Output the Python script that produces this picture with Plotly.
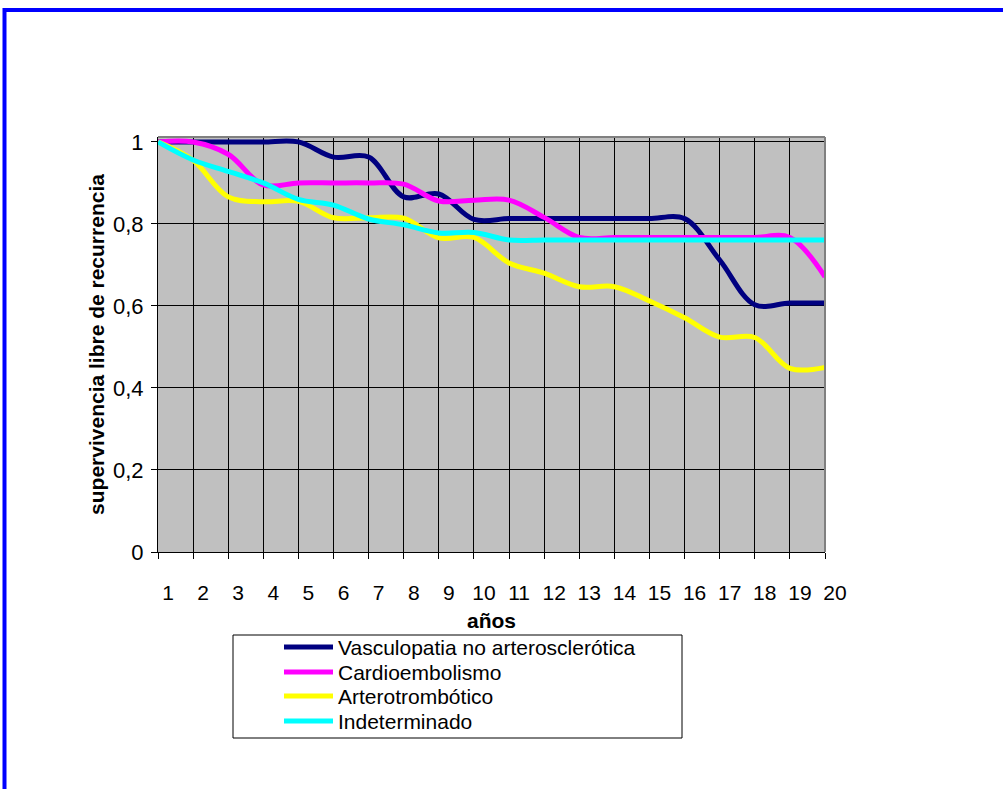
import plotly.graph_objects as go

# Recurrence-free survival by stroke subtype, years 1-20
years = list(range(1, 21))

vasculopatia = [1.0, 1.0, 1.0, 1.0, 1.0, 0.963, 0.963, 0.866, 0.873, 0.811,
                0.813, 0.813, 0.813, 0.813, 0.813, 0.813, 0.712, 0.603, 0.607, 0.607]
cardioembolismo = [1.0, 1.0, 0.97, 0.895, 0.9, 0.9, 0.9, 0.897, 0.856, 0.858,
                   0.858, 0.816, 0.767, 0.767, 0.767, 0.767, 0.767, 0.767, 0.767, 0.671]
arterotrombotico = [1.0, 0.955, 0.866, 0.854, 0.855, 0.815, 0.815, 0.814, 0.766, 0.767,
                    0.705, 0.68, 0.647, 0.647, 0.612, 0.571, 0.524, 0.523, 0.448, 0.45]
indeterminado = [1.0, 0.956, 0.928, 0.9, 0.86, 0.846, 0.812, 0.798, 0.778, 0.779,
                 0.761, 0.761, 0.761, 0.761, 0.761, 0.761, 0.761, 0.761, 0.761, 0.761]

series_names = ["Vasculopatia no arterosclerótica", "Cardioembolismo",
                "Arterotrombótico", "Indeterminado"]
series_values = [vasculopatia, cardioembolismo, arterotrombotico, indeterminado]
series_colors = ["#000080", "#FF00FF", "#FFFF00", "#00FFFF"]

y_tickvals = [0, 0.2, 0.4, 0.6, 0.8, 1.0]
y_ticktext = ["0", "0,2", "0,4", "0,6", "0,8", "1"]

W, H = 1003, 789
L, R, T, B = 158, 825, 137, 552  # plot area in pixels

def px(xp):
    return (xp - L) / (R - L)

def py(yp):
    return (B - yp) / (B - T)

FONT = "Liberation Sans, Arial, sans-serif"

fig = go.Figure()
for name, vals, col in zip(series_names, series_values, series_colors):
    fig.add_trace(go.Scatter(
        x=years, y=vals, mode="lines", name=name, showlegend=False,
        line=dict(color=col, width=5, shape="spline", smoothing=1.0),
    ))

shapes = []
# outer blue frame
shapes.append(dict(type="rect", xref="paper", yref="paper",
                   x0=px(4.5), x1=px(1012), y0=py(10), y1=py(800),
                   line=dict(color="#0000FF", width=4), layer="above"))
# grey top/right frame of plot area
shapes.append(dict(type="line", xref="paper", yref="paper", x0=0, x1=1, y0=1, y1=1,
                   line=dict(color="#808080", width=2)))
shapes.append(dict(type="line", xref="paper", yref="paper", x0=1, x1=1, y0=0, y1=1,
                   line=dict(color="#808080", width=2)))

# legend box
shapes.append(dict(type="rect", xref="paper", yref="paper",
                   x0=px(233), x1=px(682), y0=py(635), y1=py(738),
                   line=dict(color="#000000", width=1), fillcolor="rgba(0,0,0,0)"))
annotations = []
leg_y = [647, 672, 696, 721]
for name, col, yy in zip(series_names, series_colors, leg_y):
    shapes.append(dict(type="line", xref="paper", yref="paper",
                       x0=px(284), x1=px(333), y0=py(yy), y1=py(yy),
                       line=dict(color=col, width=5)))
    annotations.append(dict(xref="paper", yref="paper", x=px(336), y=py(yy),
                            xanchor="left", yanchor="middle", showarrow=False,
                            text=name, font=dict(family=FONT, size=21, color="#000000")))

fig.update_layout(
    width=W, height=H,
    margin=dict(l=L, r=W - R, t=T, b=H - B, pad=0),
    paper_bgcolor="#FFFFFF", plot_bgcolor="#C0C0C0",
    font=dict(family=FONT, size=20, color="#000000"),
    shapes=shapes, annotations=annotations,
    xaxis=dict(
        range=[1, 20], tickmode="linear", tick0=1, dtick=1,
        showgrid=True, gridcolor="#000000", gridwidth=1,
        ticks="outside", ticklen=6, tickcolor="#000000",
        showline=True, linecolor="#000000", linewidth=1,
        zeroline=False, ticklabelshift=10, ticklabelstandoff=16,
        tickfont=dict(family=FONT, size=21),
        title=dict(text="<b>años</b>", font=dict(family=FONT, size=21), standoff=10),
    ),
    yaxis=dict(
        range=[0, 1.012], tickvals=y_tickvals, ticktext=y_ticktext,
        showgrid=True, gridcolor="#000000", gridwidth=1,
        ticks="outside", ticklen=6, tickcolor="#000000",
        showline=True, linecolor="#000000", linewidth=1,
        zeroline=False, ticklabelstandoff=3,
        tickfont=dict(family=FONT, size=22),
        title=dict(text="<b>supervivencia libre de recurrencia</b>",
                   font=dict(family=FONT, size=21), standoff=2),
    ),
)

fig.write_html("out.html")
